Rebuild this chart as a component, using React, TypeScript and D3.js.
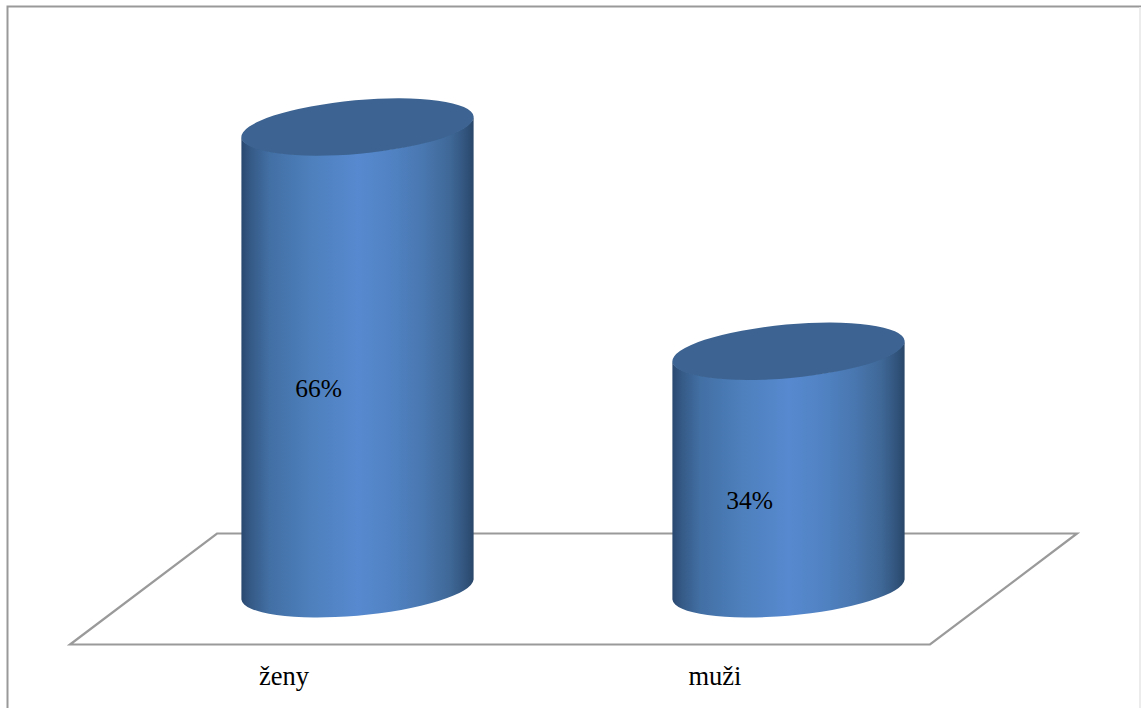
import React from "react";
import * as d3 from "d3";

const categories = ["ženy", "muži"];
const shares = [66, 34];
const shareLabels = ["66%", "34%"];

const W = 1141;
const H = 708;

// Horizontal shading across a cylinder's visible side.
const sideStops = [
  [0, "#2a4870"],
  [0.04, "#355a86"],
  [0.12, "#426fa4"],
  [0.3, "#4e80bd"],
  [0.5, "#5689cf"],
  [0.64, "#5183c4"],
  [0.78, "#4977b0"],
  [0.9, "#3f6897"],
  [0.97, "#30527a"],
  [1, "#294668"],
];

const x = d3.scalePoint<string>().domain(categories).range([357.5, 788.5]);
const y = d3.scaleLinear().domain([0, 66]).range([589.5, 127]);

// Tilted ellipse capping each cylinder.
const rx = 116.6;
const ry = 26.8;
const tilt = -5.2;
const halfW = 116.1;
const tiltDrop = 10;

const floor = d3.line()([
  [217, 533.5],
  [1077, 533.5],
  [930, 644.5],
  [70, 644.5],
]) + "Z";

function sidePath(cx: number, top: number, base: number) {
  const p = d3.path();
  p.moveTo(cx - halfW, top + tiltDrop);
  p.lineTo(cx - halfW, base + tiltDrop);
  return (
    p.toString() +
    `A${rx} ${ry} ${tilt} 0 0 ${cx + halfW} ${base - tiltDrop}` +
    `L${cx + halfW} ${top - tiltDrop}` +
    `A${rx} ${ry} ${tilt} 0 1 ${cx - halfW} ${top + tiltDrop}Z`
  );
}

export default function App() {
  return (
    <svg
      width={W}
      height={H}
      viewBox={`0 0 ${W} ${H}`}
      style={{ position: "absolute", left: 0, top: 0, background: "#fff" }}
    >
      <defs>
        <linearGradient id="side" x1="0" y1="0" x2="1" y2="0">
          {sideStops.map(([o, c]) => (
            <stop key={o as number} offset={o as number} stopColor={c as string} />
          ))}
        </linearGradient>
      </defs>

      {/* chart frame: top and left edges, faint right edge */}
      <path d={`M7.5 708V6.5H${W}`} fill="none" stroke="#999" strokeWidth={2} />
      <line x1={1140} x2={1140} y1={7} y2={H} stroke="#e6e6e6" strokeWidth={1.5} />

      {/* floor of the 3D plot */}
      <path d={floor} fill="#fff" stroke="#9a9a9a" strokeWidth={2.2} strokeLinejoin="miter" />

      {categories.map((c, i) => {
        const cx = x(c)!;
        const top = y(shares[i]);
        const base = y(0);
        return (
          <g key={c}>
            <path d={sidePath(cx, top, base)} fill="url(#side)" />
            <ellipse
              cx={cx}
              cy={top}
              rx={rx}
              ry={ry}
              transform={`rotate(${tilt} ${cx} ${top})`}
              fill="#3c6391"
            />
            <text
              x={cx - 38.8}
              y={(top + base) / 2 + 38.5}
              textAnchor="middle"
              fontFamily="'Liberation Serif', serif"
              fontSize={25.5}
              fill="#000"
            >
              {shareLabels[i]}
            </text>
            <text
              x={cx - 73.5}
              y={685}
              textAnchor="middle"
              fontFamily="'Liberation Serif', serif"
              fontSize={26.5}
              fill="#000"
            >
              {c}
            </text>
          </g>
        );
      })}
    </svg>
  );
}
